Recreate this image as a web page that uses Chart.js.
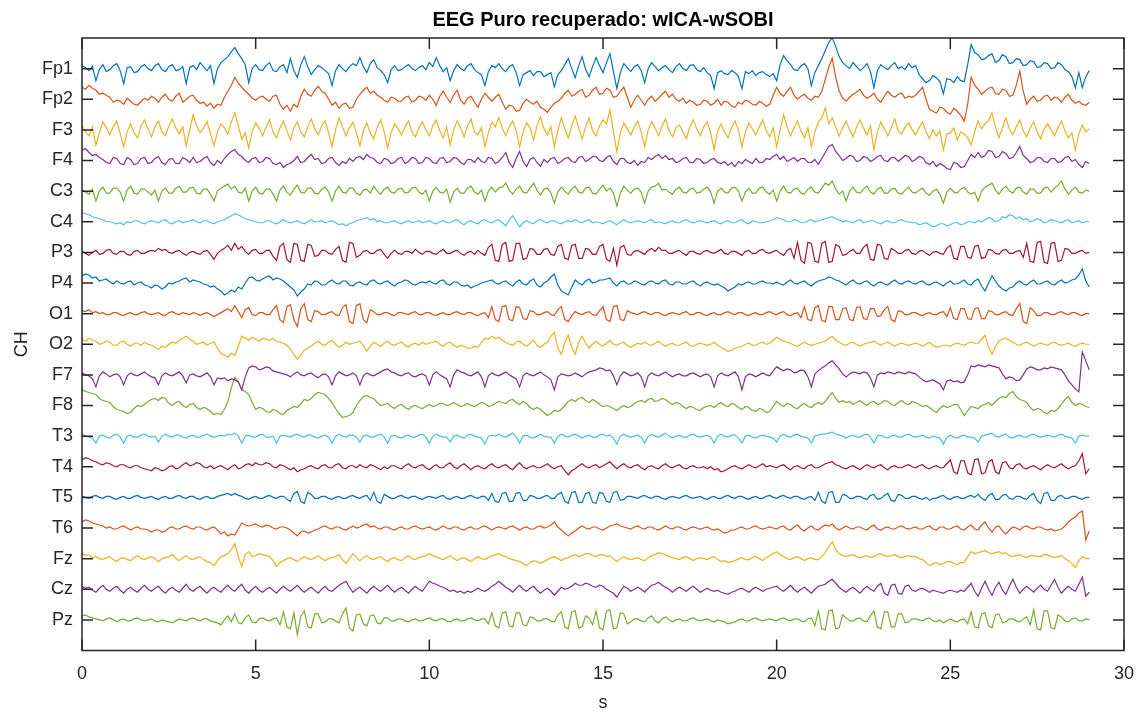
<!DOCTYPE html>
<html>
<head>
<meta charset="utf-8">
<script src="https://cdn.jsdelivr.net/npm/chart.js@4.4.1/dist/chart.umd.min.js"></script>
<style>
  html, body { margin: 0; background: #fff; }
  #wrap { width: 1147px; height: 715px; }
</style>
</head>
<body>
<div id="wrap"><canvas id="eeg" width="1147" height="715"></canvas></div>
<script>
const channels = ["Fp1", "Fp2", "F3", "F4", "C3", "C4", "P3", "P4", "O1", "O2",
  "F7", "F8", "T3", "T4", "T5", "T6", "Fz", "Cz", "Pz"];
const xTicks = [0, 5, 10, 15, 20, 25, 30];
const sampleStep = 0.1; // s between samples

// amplitudes per channel, one value every 0.1 s (positive = up), 2 s per row
const fp1 = [
  3,1,-2,2,-12,-1,4,-3,-1,3,5,-2,-15,1,2,-4,-3,2,4,0,
  -2,3,5,-1,-3,2,4,-2,-1,2,-15,1,3,-1,6,2,-2,3,-15,0,
  6,9,12,17,21,15,10,4,-14,0,4,-1,-2,3,6,-2,-3,2,4,-4,
  10,-2,-9,4,12,2,-6,-1,3,1,-2,-5,-17,-2,4,0,-3,2,5,3,
  11,2,-4,5,9,1,-2,-6,-14,-1,3,-2,-1,2,4,0,-2,1,3,-1,
  6,2,11,3,-3,1,-12,-2,4,0,-2,3,5,-1,-4,-6,-17,-3,3,1,
  5,0,-3,2,4,-4,-17,-6,-4,-2,-7,-3,-3,-8,-6,-4,-18,-6,-2,4,
  10,0,-9,3,12,-1,-8,2,11,3,-4,6,15,-3,-20,-4,5,1,-3,2,
  4,-2,-14,0,6,2,-2,1,3,-1,-4,2,5,0,-2,3,4,-1,-3,1,
  -4,-7,-20,-4,-2,-5,-6,-2,-4,-8,-20,-3,-5,-2,-7,-4,-3,-6,-8,-5,
  -12,4,13,8,4,-1,-2,3,5,0,-17,-4,3,10,18,26,31,22,12,6,
  3,0,6,2,-2,1,5,-3,-19,-2,4,1,-1,3,6,0,2,-1,5,1,
  3,-6,-10,-14,-12,-7,-9,-13,-25,-10,-11,-14,-8,-12,-13,4,24,16,14,9,
  10,13,15,6,8,14,12,5,6,10,9,3,4,8,7,1,2,6,5,0,
  1,6,4,-1,-3,-8,-19,-4,-19,-8,-2];
const fp2 = [
  12,10,14,11,9,5,6,4,2,-3,-1,-2,-5,1,-2,-5,-6,-2,1,-1,
  3,1,-3,2,5,0,-2,3,6,-3,0,3,4,-1,-4,-3,-7,-4,-9,-5,
  -6,2,8,14,22,16,12,8,5,1,-1,2,3,0,-2,3,4,-5,-10,-6,
  -12,-5,-8,3,10,5,3,9,13,8,6,0,-6,-3,-9,-5,-4,-9,-8,0,
  5,9,12,6,8,4,2,-1,-3,2,1,-2,-2,2,3,-3,-1,3,2,-1,
  4,0,-6,3,8,2,-3,4,9,-1,-5,1,3,-3,-8,0,6,2,-2,2,
  5,-3,-10,-6,-7,-12,-11,-4,0,-3,-5,-2,-8,-10,-13,-8,-4,-2,1,6,
  9,3,5,8,10,2,4,9,12,5,6,11,9,2,3,8,12,2,-8,-1,
  4,-1,-6,0,3,-2,1,5,8,2,5,0,-2,1,-4,-1,-3,-6,-5,-1,
  -2,-6,-4,0,-6,-2,-3,-7,-8,-3,-5,-1,-2,-5,-6,-2,-4,-7,-5,4,
  12,6,3,8,12,4,0,3,5,1,-1,3,2,8,20,32,41,22,8,1,
  -2,2,5,7,10,4,1,3,6,0,-3,3,8,4,2,5,6,1,3,2,
  4,8,12,0,-10,-12,-14,-8,-9,-13,-15,-9,-12,-16,-22,-5,22,14,10,5,
  8,11,12,6,5,10,9,3,4,14,28,8,-5,0,3,-2,-1,3,4,-1,
  2,1,-3,2,5,-1,-4,-2,-5,-6,-3];
const f3 = [
  4,-2,-6,3,-15,-3,8,2,-5,3,9,-4,-17,-2,6,-3,-8,4,10,1,
  -7,3,9,-2,-6,4,11,2,-4,3,-16,0,15,4,-3,2,8,-4,-16,-2,
  6,2,-4,8,17,4,-9,-3,-18,-2,7,2,-6,3,10,-2,-8,2,9,-1,
  -10,2,8,-2,-7,3,11,1,-5,4,9,-3,-17,0,12,3,-6,2,8,-3,
  -16,-1,7,-3,-9,3,10,-2,-18,-3,6,1,-5,3,9,-2,-7,2,8,0,
  -6,4,10,-1,-8,3,-15,0,9,2,-7,4,11,-2,-5,2,-17,-3,8,3,
  12,2,-6,3,9,-1,-17,-2,7,2,-10,4,13,1,-5,3,-17,-1,12,1,
  -8,4,14,2,-9,3,12,-1,-6,4,10,6,20,-2,-22,-3,7,1,-5,3,
  9,-2,-17,0,8,2,-6,4,11,-1,-7,2,5,-2,-9,3,10,1,-6,3,
  8,-3,-20,-1,6,-2,-8,2,9,0,-17,-2,7,1,-5,3,10,-1,-7,2,
  -17,0,15,3,-6,2,9,-1,-8,2,-17,-2,8,12,22,6,12,3,-6,2,
  9,0,-7,3,10,2,-5,4,-20,-2,8,1,-6,2,11,-1,-4,3,7,0,
  -5,2,8,-2,-9,0,-6,-1,-20,-4,-3,2,-10,-2,-4,-8,-15,-2,9,1,
  6,9,17,3,-8,2,12,1,-5,3,10,-1,-7,2,8,-2,-9,1,6,0,
  -6,2,9,-1,-8,-3,-20,-4,5,-2,1];
const f4 = [
  10,12,8,5,6,3,1,-2,-3,3,2,-3,-4,3,1,-4,-3,2,3,-3,
  -2,2,4,-2,-4,1,2,-3,-3,3,1,-2,3,-2,-1,2,4,-2,-5,0,
  -3,2,6,9,11,6,4,0,-2,2,3,-2,-1,3,2,-3,-4,-2,-7,-4,
  -3,0,4,-2,-1,3,6,1,2,-3,-2,2,3,-2,-5,-1,-3,2,-1,3,
  4,1,6,3,2,-2,-3,2,1,-3,-2,2,3,-3,-1,3,2,-3,-2,3,
  2,-2,-3,2,3,-2,-1,3,2,-2,-4,1,1,-2,3,-1,-2,3,2,-3,
  -1,3,8,-2,-7,2,9,-1,-6,1,3,-2,-6,1,-2,2,3,-3,-1,2,
  3,-1,-2,3,4,-1,1,4,4,0,-1,3,5,-1,-4,2,2,-2,-3,0,
  -5,-1,-2,3,1,4,6,2,5,1,2,-2,-1,2,3,-2,-2,2,1,-3,
  -2,1,2,-2,-3,-1,-5,-2,-6,-1,-3,1,-1,-3,2,-2,-2,2,1,4,
  6,1,4,-1,1,3,-1,2,2,-2,-2,1,-4,2,8,14,16,9,5,0,
  2,5,4,-1,0,4,3,-1,1,4,5,0,-1,3,3,-1,2,5,4,-1,
  1,4,3,-2,-4,-1,-6,-3,-5,-8,-9,-2,-3,-7,-6,0,6,3,8,3,
  5,10,9,3,4,9,7,2,3,8,14,5,2,-2,-1,3,3,-1,-2,2,
  2,-2,-1,3,4,-1,1,-4,-7,-1,-3];
const c3 = [
  2,-1,-3,2,-10,0,4,-2,-2,3,3,-1,-10,1,5,-2,-3,2,2,-1,
  -4,1,-10,0,3,-2,-2,3,5,-1,-1,3,4,-2,-3,2,2,-3,-10,0,
  3,5,7,2,5,-1,-2,3,-10,0,4,-2,-3,2,2,-3,-10,1,5,-1,
  -4,2,6,-1,-2,3,3,-2,-3,2,4,-1,-10,0,5,-1,-2,3,3,-2,
  -4,1,2,-2,5,0,-3,2,4,-1,-2,2,3,-2,-1,3,4,-1,-3,1,
  -10,0,4,-1,-2,2,-11,-1,3,-2,-2,3,5,-1,-3,1,-10,0,4,-1,
  3,4,8,1,-3,2,5,-1,-2,3,8,1,-4,2,3,-2,-12,-1,4,0,
  -3,2,5,-1,-2,3,4,-2,-3,2,6,0,3,-2,-15,-2,5,1,-2,2,
  3,-1,-12,0,4,5,8,1,2,-1,-3,2,4,-1,-2,2,3,-2,-1,2,
  4,-1,-12,0,3,-1,-2,3,4,0,-10,-1,3,-2,-2,3,4,-1,-3,1,
  -10,0,5,-1,-2,2,3,-2,-3,2,4,-1,-2,3,8,6,10,2,-3,0,
  -10,0,4,-1,-2,2,5,-1,-3,2,4,-2,-2,2,3,-2,-3,1,4,-1,
  -2,1,3,-2,-4,0,2,-3,-12,-1,3,-1,-2,2,4,-1,-3,-1,-10,0,
  4,6,8,1,-3,2,5,0,-2,3,4,-1,-3,2,2,-2,-2,3,4,-1,
  3,6,10,2,-3,1,4,-1,-2,1,0];
const c4 = [
  9,8,7,5,4,3,2,0,0,-1,-2,-1,-3,0,-1,1,1,-1,-2,0,
  1,0,-1,1,2,-1,-2,0,1,-1,0,1,2,0,-1,1,1,-1,-2,0,
  1,2,4,6,8,7,5,3,2,1,0,-1,-1,1,1,-1,-2,0,2,0,
  -1,0,1,-1,-2,0,2,0,0,1,-1,0,1,-1,-3,-2,-4,-2,-1,1,
  2,3,4,2,3,0,1,-1,-1,0,1,-1,-2,0,1,-1,0,1,-1,0,
  1,-1,-2,0,1,-1,-1,1,2,-1,-3,0,1,-1,-2,1,2,0,-1,1,
  2,-1,-4,2,6,0,-5,-1,1,-1,-2,1,2,0,-1,1,1,-1,-2,0,
  1,0,2,0,-1,1,2,-1,0,-1,-2,0,1,-1,-3,0,2,0,-1,0,
  1,0,-1,1,2,-1,0,-1,-2,0,1,-1,-1,1,2,0,-1,0,1,0,
  -1,0,1,-1,-2,0,1,-1,-1,1,2,-1,-2,1,0,-1,-1,0,1,2,
  4,3,2,0,0,2,1,-1,-1,1,2,0,1,2,3,4,5,3,2,0,
  1,0,-1,1,2,-1,0,1,1,-1,-2,0,1,-1,-1,1,2,0,0,-1,
  -1,-3,-2,-1,-3,-5,-4,-2,-2,-4,-3,-1,-1,-3,-2,0,0,-1,1,0,
  2,4,3,0,1,5,4,7,6,3,5,2,3,0,1,3,2,-1,0,2,
  1,0,-1,1,2,-1,0,1,-1,0,0];
const p3 = [
  1,-1,-3,0,2,-2,-1,2,3,-1,-2,1,1,-2,-3,1,2,-1,-1,1,
  2,1,4,2,3,0,-1,1,2,-1,-3,0,1,-1,-2,1,2,-2,-7,-1,
  2,4,7,2,9,3,6,1,-2,2,3,-1,-1,2,2,-4,-8,6,9,-7,
  -10,9,8,-8,-9,8,7,-4,-3,2,2,-1,-2,3,6,-8,-10,10,9,-5,
  -3,1,2,-1,-1,2,3,-2,-6,-1,2,-1,-2,1,1,-1,3,0,-2,1,
  1,-1,-2,1,3,-1,-1,1,2,-1,-3,0,1,-2,2,-1,-3,5,8,-8,
  -9,8,10,-9,-8,9,9,-7,-6,4,3,-2,-2,3,4,-2,-3,6,8,-6,
  -7,7,8,-6,-6,4,3,-2,-2,6,8,-7,-9,4,-13,5,7,-2,-3,1,
  2,0,-2,2,4,1,5,2,2,-1,-1,1,2,-1,-3,1,1,-1,-2,1,
  2,0,-1,1,3,-1,-2,1,1,-1,-3,1,2,-1,-1,2,3,0,-1,1,
  2,-1,-3,2,4,-6,10,-8,-11,10,9,-9,-10,9,11,-10,-9,8,6,-3,
  -2,1,3,-1,-1,5,8,-7,-8,8,7,-6,-7,4,2,-1,-1,2,3,-1,
  -2,1,2,-1,-3,0,1,-1,-2,4,7,-6,-7,6,6,-5,-6,6,7,-6,
  -5,3,2,-1,-2,2,3,-1,-1,1,2,-5,9,-9,-10,10,11,-10,-11,9,
  10,-9,-8,4,3,-1,-1,1,2,-1,0];
const p4 = [
  7,9,8,5,6,2,3,4,1,-1,2,0,-1,1,2,-2,0,1,-2,-3,
  -5,-2,-3,-6,-4,0,-1,1,2,4,5,1,3,2,1,-1,-2,-4,-3,-6,
  -8,-12,-10,-7,-9,-4,-6,0,5,6,3,2,4,6,7,3,5,4,2,-1,
  -4,-7,-13,-9,-6,-1,-2,2,1,-2,-2,1,3,0,-1,2,2,-2,-3,0,
  1,-1,-2,2,3,0,-1,1,2,-1,-3,0,1,3,2,-1,-2,0,1,0,
  2,0,-1,2,3,-1,-2,1,1,-2,-3,-2,-5,-3,-2,0,1,2,3,0,
  -1,1,2,-1,-3,1,3,-1,-2,2,4,-2,-4,0,2,6,9,-2,-8,-10,
  -12,-4,3,0,-2,2,4,0,1,3,3,4,5,0,-3,1,2,-1,-1,2,
  1,-1,-2,1,2,0,-1,2,3,-1,-2,1,1,-1,-1,1,2,-1,-3,0,
  1,-1,-2,-1,-3,-5,-8,-6,-4,-1,-2,0,1,-1,-1,1,2,0,0,-1,
  1,-1,-2,1,3,0,-1,1,2,-1,-3,0,2,3,4,6,5,3,2,0,
  -2,1,3,0,-1,1,2,-1,-3,0,1,-1,-2,1,3,0,-1,1,2,0,
  -1,1,2,-1,-2,0,1,-1,-3,0,2,-1,-1,1,3,-1,-2,2,4,-3,
  -8,0,7,2,-3,-6,-8,-5,-4,0,2,-1,-2,1,3,-1,-1,1,2,-1,
  -2,1,3,0,1,3,4,8,14,2,-4];
const o1 = [
  3,2,4,1,2,0,1,-1,-1,1,1,-1,-2,0,1,-1,-1,1,2,0,
  -1,0,1,-1,-2,1,2,0,-1,1,0,-1,1,0,-2,0,1,-1,-3,-1,
  1,3,5,2,8,2,-4,4,6,-1,-2,1,1,-1,-1,4,8,-6,-9,7,
  9,-6,-13,5,10,-6,-8,3,2,-1,-1,1,2,-1,-2,6,9,-8,-10,8,
  10,-6,-9,4,2,-1,-1,1,1,-1,-2,1,1,0,-1,1,2,-1,-1,1,
  1,-1,-2,0,1,-1,-1,1,2,0,-1,1,1,-1,-2,0,1,-4,7,-6,
  -8,7,8,-6,-7,7,6,-5,-6,3,2,-1,-1,1,2,-1,-2,4,7,-6,
  -8,-2,2,0,-1,1,2,-1,-2,3,7,-6,-8,7,8,-6,-7,3,1,0,
  -1,1,2,0,-1,1,1,-1,-2,0,1,0,-1,1,2,-1,-1,1,1,-1,
  -2,0,1,-1,-1,1,2,0,-1,1,1,-1,-2,0,1,-1,-1,1,2,0,
  -1,1,2,-1,-2,0,1,-4,7,-6,-7,6,8,-7,-8,7,7,-6,-6,5,
  6,-6,-7,6,7,-5,-6,5,5,-3,-2,4,7,-6,-8,3,2,-1,-1,1,
  1,-1,-2,0,1,-1,-1,1,2,-3,6,-5,-6,5,5,-5,-6,5,6,-5,
  -5,3,2,-1,-1,1,2,-1,-2,5,10,-8,-10,6,3,-2,-2,1,1,-1,
  -1,1,2,0,-1,1,1,-1,-2,0,0];
const o2 = [
  5,3,6,4,3,0,1,3,2,-1,-1,2,3,0,-2,1,1,-1,2,0,
  -1,-3,-5,-2,-3,0,2,1,4,6,8,5,3,0,1,2,-1,1,2,-4,
  -9,-11,-13,-9,-11,-2,8,6,4,7,5,3,6,5,4,6,3,2,1,-1,
  -5,-10,-15,-11,-6,-4,-2,1,3,0,-1,2,4,0,-3,-1,2,0,1,2,
  3,-1,-7,-2,2,0,-2,1,3,0,-1,1,2,-1,-3,0,1,-1,2,0,
  1,2,3,0,-2,1,2,-1,-3,-1,-2,-4,-4,-2,-3,2,6,5,8,6,
  7,4,2,0,-1,2,3,0,-2,1,4,-1,-3,0,2,8,12,-4,-10,2,
  9,-3,-10,2,8,1,-4,0,3,0,-2,1,4,0,-1,1,2,-1,-3,-1,
  1,0,2,0,-1,1,3,0,-2,0,1,-1,-1,1,2,-1,-2,0,1,0,
  -1,0,2,-1,-3,-5,-7,-6,-4,-3,-2,0,1,-1,-1,1,2,0,1,4,
  7,5,3,2,1,-1,-2,0,2,0,-1,0,1,2,3,6,8,4,2,0,
  -1,1,2,0,-2,0,1,2,3,1,-1,1,2,0,-2,0,1,0,-1,0,
  1,0,-2,0,2,-1,-3,-2,-1,-1,-2,0,1,0,-1,1,2,1,1,5,
  9,-3,-10,-2,3,5,6,4,2,0,-1,1,2,0,-2,0,1,0,-1,1,
  2,0,-1,0,1,-1,-2,0,1,0,0];
const f7 = [
  2,0,-1,-4,-12,-1,3,1,-2,0,1,-2,-10,-1,2,0,-1,1,3,0,
  -2,-3,-10,-1,2,0,-1,1,3,-1,-8,0,1,-1,-2,0,2,-2,-10,-3,
  -4,-3,-6,-4,-5,-7,-15,-2,7,9,8,5,6,8,7,4,3,2,1,0,
  -2,1,3,0,-1,1,2,-1,-3,0,1,-2,-10,-1,3,1,-1,0,2,-1,
  -10,-1,2,0,-1,1,3,5,6,3,2,0,-1,1,2,-1,-2,0,1,-1,
  -10,0,3,0,-2,-4,-12,0,5,3,2,0,-1,1,3,-2,-12,-1,2,0,
  -1,1,3,0,-2,-4,-12,-1,2,0,-1,1,3,0,-2,-5,-15,-2,1,0,
  -1,0,2,0,-2,1,3,4,5,7,6,4,5,-1,-10,-1,3,1,-1,0,
  2,-2,-12,-1,2,0,-1,1,3,0,-2,0,1,-1,-1,1,2,0,-2,0,
  1,-2,-12,-1,2,0,-1,1,3,-2,-15,-2,1,0,-2,0,2,0,-1,4,
  8,6,4,6,5,2,3,5,4,-2,-12,1,4,7,9,12,14,10,6,1,
  -2,1,3,2,1,3,2,-3,-12,0,2,1,3,2,1,3,2,1,3,2,
  1,-2,-5,-7,-6,-5,-7,-9,-15,-6,-5,-7,-6,-8,-7,0,9,8,10,9,
  8,10,9,8,7,1,-4,-2,-3,-6,-5,0,6,8,7,5,5,7,6,8,
  7,6,5,0,-6,-10,-14,-17,23,14,5];
const f8 = [
  16,14,13,12,11,7,5,4,3,-1,-4,-5,-6,-8,-7,-3,0,-1,1,4,
  6,7,5,8,7,2,0,3,4,0,-2,1,2,-2,-4,-2,-3,-6,-9,-8,
  -9,-4,4,18,28,24,16,14,11,3,-4,-2,-3,-6,-7,-4,-5,-8,-9,-5,
  -3,-1,-2,2,6,5,7,11,13,12,11,7,3,-3,-8,-12,-11,-10,-7,0,
  5,9,10,8,7,3,0,1,2,-1,-3,0,1,-2,-4,-1,0,-2,-3,-1,
  1,-1,0,2,2,0,1,3,1,-1,0,2,0,-1,1,3,2,-1,0,2,
  4,3,2,5,6,3,1,4,2,-2,-4,-2,-4,-7,-10,-8,-5,-6,-4,0,
  4,6,4,7,8,5,3,6,4,1,-1,0,-1,-3,-5,-2,0,-2,-1,2,
  4,5,3,6,7,4,5,7,6,3,1,3,2,-1,-3,-1,-2,-4,-5,-2,
  -1,0,-2,1,3,0,-1,2,1,-2,-4,-1,-2,-5,-6,-3,-4,-7,-6,-1,
  4,1,-1,2,1,-2,-3,0,2,-1,-2,1,3,1,4,9,13,7,3,5,
  3,4,1,3,5,2,0,3,4,1,2,5,4,1,0,3,5,2,1,4,
  3,1,-1,0,-2,-5,-7,-3,0,-2,-1,1,1,-4,-10,-5,-1,-2,-3,0,
  1,3,0,4,7,9,8,12,14,9,6,5,3,-2,-5,-3,-4,-7,-8,-5,
  -6,-3,1,6,9,3,0,2,1,-1,-2];
const t3 = [
  2,0,-1,-2,-7,0,1,-1,-2,1,2,-1,-7,0,1,-1,-1,1,2,0,
  -1,0,-6,0,2,0,-1,1,1,-1,-2,0,1,-1,-1,1,2,0,-1,0,
  1,0,2,1,3,0,-7,0,1,-1,-1,1,2,-1,-1,0,-7,0,1,0,
  -1,1,2,0,-1,1,1,-1,-2,0,1,-1,-7,0,2,0,-1,1,1,-1,
  -6,0,1,-1,-1,1,2,-1,-7,0,1,-1,-2,0,1,-1,-1,1,2,-1,
  -7,0,2,0,-1,-1,-6,0,1,-1,-2,1,2,0,-1,-2,-8,0,1,0,
  2,0,-1,1,3,-1,-7,0,1,-1,-2,0,2,0,-1,-1,-7,0,2,0,
  -1,1,2,0,-2,0,1,-1,-1,1,2,0,1,-2,-8,0,2,0,-1,0,
  1,-1,-7,0,2,0,-1,1,3,0,-2,0,1,-1,-1,1,2,0,-1,0,
  1,-1,-7,0,2,0,-1,1,1,-2,-7,0,1,-1,-2,0,1,0,-1,-2,
  -6,0,2,0,-1,1,2,0,-1,-2,-7,0,1,2,2,3,4,2,1,0,
  -2,0,1,-1,-1,1,2,-1,-7,0,1,-1,-2,0,1,-1,-1,1,2,0,
  -1,0,1,-1,-2,0,-1,-2,-8,-1,1,-1,-2,0,1,-1,-1,-2,-6,0,
  1,2,3,0,-1,1,2,-1,-2,0,1,-1,-1,1,2,0,-1,0,1,0,
  -1,1,2,0,-1,-2,-7,0,1,0,0];
const t4 = [
  7,9,8,6,5,3,2,4,3,1,0,2,2,0,-1,1,1,-1,-2,-3,
  -4,-1,-2,-4,-3,0,1,-2,-1,2,4,1,2,4,3,0,-1,1,-2,0,
  1,-1,-3,0,2,-2,-1,2,3,1,4,2,2,4,3,0,-1,2,1,-1,
  -3,-1,-5,-3,-2,0,1,-1,-2,1,2,-1,-1,2,3,-1,-2,1,1,-1,
  2,0,-1,2,1,-1,-3,0,-2,1,1,-1,-2,1,3,0,-1,1,2,-1,
  -3,0,2,-1,-1,2,4,0,-2,1,3,0,-3,0,1,-1,-2,1,3,0,
  -1,1,2,-1,-3,1,4,0,-2,0,1,-1,-1,1,3,0,-2,0,1,-4,
  -8,-4,-2,1,3,0,-1,1,2,-1,1,3,5,1,-2,1,3,0,-1,1,
  2,-1,-3,0,1,-1,-2,1,3,0,-1,1,2,-1,-2,0,1,-1,-1,0,
  -2,0,-3,-2,-5,-4,-2,0,1,-1,-2,0,2,0,-1,1,3,0,1,0,
  -1,1,2,-1,-3,0,1,-1,-2,1,2,-1,-1,1,3,4,5,2,1,-1,
  -2,0,1,-1,-3,0,2,0,-1,1,2,-1,-3,0,1,-1,-1,1,2,0,
  -1,1,2,-1,-2,0,1,-1,-1,3,7,-5,-7,6,6,-6,-8,7,8,-7,
  -6,5,7,-5,-7,4,5,-1,-2,2,3,-1,-2,0,1,-1,-3,0,2,0,
  -1,1,3,0,-2,0,1,6,13,-7,-2];
const t5 = [
  1,0,-1,1,2,0,-1,1,1,-1,-2,0,1,-1,-1,1,2,0,-1,0,
  1,-1,-2,0,1,-1,-1,1,2,0,-1,1,1,-1,-2,0,1,-1,-1,1,
  2,3,4,2,4,2,1,-1,-2,0,1,-1,-1,1,2,0,-1,1,1,-2,
  -4,4,6,-4,-6,5,3,-1,-1,1,1,-1,-2,0,1,-1,-1,1,2,0,
  -1,1,2,-3,5,-4,-6,3,1,-1,-1,1,2,0,-1,1,1,-1,-2,0,
  1,0,-1,1,2,-1,-2,0,1,-1,-1,1,2,0,-1,1,1,-3,4,-4,
  -5,4,5,-4,-4,4,5,-3,-3,2,1,-1,-1,1,2,-1,-1,3,5,-4,
  -6,5,6,-5,-5,4,5,-5,-6,5,4,-4,-5,5,6,-3,-2,1,1,0,
  -1,1,2,0,-1,1,1,-1,-2,0,1,0,-1,1,2,0,-1,0,1,-1,
  -2,0,1,-1,-1,1,2,0,-1,1,1,-1,-2,0,1,-1,-1,1,2,0,
  -1,1,2,0,-1,1,1,-1,-2,0,1,-3,5,-4,-6,5,6,-5,-5,3,
  2,-1,-1,1,1,-1,-2,2,3,-2,-1,2,4,-3,-4,3,2,-1,-1,1,
  1,-1,-2,0,-3,-1,-1,1,2,-1,-2,0,1,-1,-1,1,2,0,3,-1,
  -3,2,4,-2,-2,2,3,-1,-2,1,1,-1,-2,2,4,-3,-6,4,5,-3,
  -3,1,2,-1,-1,1,1,-1,-2,0,0];
const t6 = [
  6,8,7,5,4,3,2,0,1,-1,-1,1,2,0,-2,0,1,-1,-1,-2,
  -4,-2,-2,-4,-3,0,1,-1,-1,1,2,0,-1,1,1,-1,-2,0,1,-2,
  -6,-4,-8,-6,-7,-1,5,3,2,3,4,2,1,3,2,0,-1,1,1,0,
  -2,-5,-8,-4,-3,-5,-4,-2,-1,1,2,0,-1,1,1,-1,-2,0,2,0,
  1,3,4,1,2,0,-1,1,1,-1,-2,0,1,-1,-1,1,2,0,-1,0,
  1,-1,-2,0,2,0,-1,1,1,-1,-2,0,1,-1,-1,1,2,0,-2,0,
  1,0,-1,1,2,0,-2,0,1,-1,-1,1,2,0,1,3,6,1,-2,-5,
  -8,-5,-3,0,2,0,-1,1,1,-1,-2,0,2,3,4,2,1,0,-1,1,
  2,0,-1,1,1,-1,-2,0,2,0,-1,1,1,-1,-2,0,1,0,-1,0,
  1,-1,-2,-1,-3,-5,-4,-2,-2,0,1,-1,-1,1,2,0,-1,0,1,0,
  -1,1,2,-1,-2,1,3,-1,-3,0,2,-1,-2,1,3,2,4,0,-2,0,
  2,0,-1,1,1,-1,-2,1,3,-1,-2,0,1,-1,-1,1,2,0,-1,0,
  1,-1,-1,1,2,-1,-2,1,1,-1,-1,1,2,-1,-2,1,3,-1,-2,3,
  6,0,-4,1,2,-3,-6,-2,1,0,-2,1,2,0,-1,1,1,-1,-2,-1,
  -3,-2,-1,2,6,9,11,15,17,-12,-3];
const fz = [
  5,3,4,1,2,0,-1,1,2,-1,-3,0,1,-1,-2,1,3,0,-1,1,
  2,0,-3,0,1,2,4,0,-2,1,3,0,-1,1,2,-1,-3,-4,-7,-2,
  2,3,5,9,15,2,-8,4,7,2,3,5,4,3,2,-2,-8,-4,-2,0,
  1,-1,-3,0,2,0,-1,1,3,0,-2,0,1,2,4,-1,-5,0,5,1,
  -2,1,3,0,-1,1,2,-1,-3,0,1,-1,-2,1,3,0,-1,1,2,3,
  5,3,2,0,-1,1,3,0,-2,0,1,-1,-3,0,2,0,-1,1,3,4,
  5,3,2,0,-1,-2,-3,-5,-7,-4,-2,-3,-5,-3,-1,1,2,0,-2,0,
  1,3,4,2,3,5,5,3,2,4,4,2,3,0,-3,0,2,0,-1,0,
  1,-1,-2,1,3,4,6,5,4,2,1,0,-1,1,2,0,-2,0,1,0,
  -1,1,2,-1,-3,-2,-4,-3,-2,0,1,-1,-1,1,2,0,-2,1,3,5,
  7,4,2,0,-1,1,2,0,-2,0,1,-1,-1,2,6,12,17,9,5,3,
  2,3,4,2,1,2,3,1,2,4,5,3,2,3,4,2,1,2,3,2,
  2,0,-1,-4,-7,-5,-4,-6,-5,-3,-3,-5,-6,-4,-4,2,7,5,6,7,
  8,6,5,6,7,5,6,3,2,3,4,2,1,3,3,2,2,4,4,2,
  1,2,3,0,-2,-5,-9,-2,2,0,0];
const cz = [
  3,1,2,-1,-3,1,4,0,-2,1,3,-1,-4,0,2,-1,-3,1,4,0,
  -2,1,3,-1,-4,0,2,-1,-3,1,5,0,-2,1,3,-1,-4,0,2,-1,
  -3,1,4,0,-2,2,5,-1,-4,0,3,-1,-3,0,2,-1,-4,0,3,0,
  -2,1,4,0,-3,0,2,-1,-4,0,3,-1,-2,1,4,6,8,2,-3,0,
  2,-1,-4,0,3,0,-2,1,4,0,-3,0,2,-1,-4,0,3,0,-2,3,
  8,6,5,3,2,0,-2,-1,-3,-2,-4,-2,-3,-1,1,-1,-2,0,3,5,
  8,5,2,0,-3,1,4,0,-2,1,3,-1,-4,-1,1,-2,-6,-2,2,0,
  1,3,6,4,4,6,5,3,2,4,3,0,-2,-4,-8,-2,3,1,-2,0,
  2,0,-3,1,4,5,7,4,2,0,-3,0,2,0,-2,1,3,0,-3,-1,
  1,-1,-2,-1,-3,-4,-5,-3,-2,0,1,-1,-3,0,2,0,-2,0,1,2,
  3,0,-2,1,4,0,-3,0,2,-1,-4,0,3,4,5,8,10,6,2,-1,
  -3,0,2,-1,-4,0,3,0,-2,3,6,-4,-6,4,5,-4,-5,3,4,-1,
  -2,0,1,-1,-3,-1,-2,-3,-4,-2,-1,-2,-3,-1,-2,2,6,-2,-7,1,
  8,0,-6,2,7,-1,-5,3,10,2,-4,0,3,0,-3,1,4,0,-2,4,
  10,2,-4,0,3,0,-2,5,12,-7,-3];
const pz = [
  4,5,3,2,1,0,-1,1,2,0,-2,0,1,-1,-1,1,2,0,-1,0,
  1,-1,-2,0,-1,-2,-3,-1,1,0,-1,1,2,0,-1,1,1,-1,-2,-3,
  -5,0,4,-2,6,-3,-4,2,5,-2,-3,1,2,0,-1,1,2,-5,8,-7,
  -9,7,-15,4,9,-7,-8,6,6,-3,-2,1,1,-1,-3,6,12,-8,-11,5,
  6,-4,-6,4,5,-3,-4,2,2,-1,-1,1,1,-1,-2,0,1,-1,-1,1,
  2,0,-1,1,1,-1,-2,0,1,-1,-1,1,2,0,-1,1,1,-4,7,-6,
  -8,7,8,-6,-7,7,7,-5,-6,3,2,-1,-1,1,1,-1,-2,5,8,-7,
  -9,8,9,-8,-7,4,2,-5,9,-8,-10,9,10,-9,-8,7,6,-4,-2,1,
  1,-1,-2,2,4,-1,-3,1,3,0,-2,0,1,-1,-1,1,2,0,-1,0,
  1,-1,-2,0,-1,-2,-4,-3,-2,0,1,-1,-1,1,2,0,-1,0,1,0,
  -1,1,2,0,-1,1,1,-1,-2,1,2,-6,9,-9,-10,9,10,-9,-8,5,
  2,-1,-1,1,2,-1,-2,4,9,-7,-9,8,8,-7,-7,6,6,-3,-2,1,
  1,0,-1,1,2,-1,-2,0,-3,-1,1,-1,-2,0,1,-4,8,-7,-8,6,
  7,-6,-8,5,6,-3,-2,1,1,-1,-2,1,3,-5,10,-9,-10,9,9,-8,
  -9,5,3,-1,-2,1,2,-1,-1,1,0];

const traces = [fp1, fp2, f3, f4, c3, c4, p3, p4, o1, o2, f7, f8, t3, t4, t5, t6, fz, cz, pz];
const palette = ["#0072BD", "#D95319", "#EDB120", "#7E2F8E", "#77AC30", "#4DBEEE", "#A2142F"];
const gain = 30.6; // amplitude units per channel spacing
const axisColor = "#262626";
const fontFamily = "'Liberation Sans', Arial, Helvetica, sans-serif";
const tickLen = 11;

const datasets = traces.map((trace, k) => ({
  label: channels[k],
  data: trace.map((v, i) => ({ x: i * sampleStep, y: k + 1 - v / gain })),
  borderColor: palette[k % palette.length],
  borderWidth: 1.2,
  pointRadius: 0,
  tension: 0,
  fill: false
}));

// MATLAB-like box with inward tick marks on all four sides
const boxTicks = {
  id: "boxTicks",
  afterDatasetsDraw(chart) {
    const { ctx, chartArea: a, scales } = chart;
    ctx.save();
    ctx.strokeStyle = axisColor;
    ctx.lineWidth = 1.5;
    ctx.beginPath();
    scales.x.ticks.forEach((t) => {
      const px = scales.x.getPixelForValue(t.value);
      ctx.moveTo(px, a.bottom);
      ctx.lineTo(px, a.bottom - tickLen);
      ctx.moveTo(px, a.top);
      ctx.lineTo(px, a.top + tickLen);
    });
    scales.y.ticks.forEach((t) => {
      const py = scales.y.getPixelForValue(t.value);
      ctx.moveTo(a.left, py);
      ctx.lineTo(a.left + tickLen, py);
      ctx.moveTo(a.right, py);
      ctx.lineTo(a.right - tickLen, py);
    });
    ctx.stroke();
    ctx.strokeRect(a.left, a.top, a.right - a.left, a.bottom - a.top);
    ctx.restore();
  }
};

new Chart(document.getElementById("eeg"), {
  type: "line",
  data: { datasets },
  plugins: [boxTicks],
  options: {
    responsive: false,
    animation: false,
    layout: { padding: { left: 0, right: 16, top: 0, bottom: 0 } },
    plugins: {
      legend: { display: false },
      tooltip: { enabled: false },
      title: {
        display: true,
        text: "EEG Puro recuperado: wICA-wSOBI",
        fullSize: false,
        color: "#000",
        font: { family: fontFamily, size: 20, weight: "bold" },
        padding: { top: 8, bottom: 6 }
      }
    },
    scales: {
      x: {
        type: "linear",
        min: 0,
        max: 30,
        grid: { display: false, drawTicks: false },
        border: { display: false },
        afterBuildTicks: (s) => { s.ticks = xTicks.map((v) => ({ value: v })); },
        afterFit: (s) => { s.height = 64.5; },
        ticks: { color: axisColor, font: { family: fontFamily, size: 18 }, padding: 13, maxRotation: 0, autoSkip: false },
        title: { display: true, text: "s", color: axisColor, font: { family: fontFamily, size: 18 }, padding: { top: 0, bottom: 1 } }
      },
      y: {
        type: "linear",
        min: 0,
        max: 20,
        reverse: true,
        grid: { display: false, drawTicks: false },
        border: { display: false },
        afterBuildTicks: (s) => { s.ticks = channels.map((_, i) => ({ value: i + 1 })); },
        afterFit: (s) => { s.width = 82; },
        ticks: {
          color: axisColor,
          font: { family: fontFamily, size: 18 },
          padding: 9,
          autoSkip: false,
          callback: (v) => channels[Math.round(v) - 1]
        },
        title: { display: true, text: "CH", color: axisColor, font: { family: fontFamily, size: 18 }, padding: { top: 11, bottom: 0 } }
      }
    }
  }
});
</script>
</body>
</html>
